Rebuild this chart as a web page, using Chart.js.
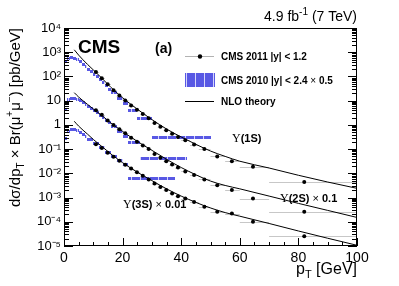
<!DOCTYPE html>
<html>
<head>
<meta charset="utf-8">
<title>Upsilon differential cross sections</title>
<script src="https://cdn.jsdelivr.net/npm/chart.js@4.4.1/dist/chart.umd.min.js"></script>
<style>
  html, body { margin: 0; padding: 0; background: #fff; }
  canvas { display: block; }
</style>
</head>
<body>
<canvas id="xsecChart" width="399" height="286"></canvas>
<script>
const nloPt = [3.5, 5, 8, 10, 13, 16, 20, 25, 30, 35, 40, 45, 50, 55, 60, 70, 80, 90, 100];
const nlo1S = [1260, 760, 316, 186, 83, 35.5, 13.2, 4.47, 1.66, 0.676, 0.316, 0.158, 0.0832, 0.0501, 0.0316, 0.0166, 0.00832, 0.00437, 0.0024];
const nlo2S = [21.4, 14.1, 7.08, 4.57, 2.4, 1.2, 0.537, 0.209, 0.0891, 0.038, 0.0174, 0.00871, 0.00479, 0.00316, 0.00229, 0.00115, 0.000575, 0.000295, 0.000151];
const nlo3S = [1.41, 0.891, 0.417, 0.251, 0.126, 0.0631, 0.0275, 0.0112, 0.00501, 0.00229, 0.00115, 0.000631, 0.000372, 0.00024, 0.00017, 0.0000851, 0.0000417, 0.0000209, 0.0000107];

// CMS 2011, |y| < 1.2
const binLo2011 = [10, 12, 14, 16, 18, 20, 22, 24, 26, 28, 30, 32, 34, 36, 38, 40, 43, 46, 50, 55, 60, 70];
const binHi2011 = [12, 14, 16, 18, 20, 22, 24, 26, 28, 30, 32, 34, 36, 38, 40, 43, 46, 50, 55, 60, 70, 100];
const pt2011 = [10.9, 12.9, 14.9, 16.9, 18.9, 20.9, 22.9, 24.9, 26.9, 28.9, 30.9, 32.9, 34.9, 36.9, 38.9, 41.4, 44.4, 47.9, 52.3, 57.3, 64.5, 82];
const cms2011_1S = [151, 85.1, 47.9, 26.9, 16.2, 10.2, 6.31, 4.17, 2.82, 1.86, 1.2, 0.832, 0.603, 0.427, 0.316, 0.234, 0.155, 0.102, 0.0501, 0.0316, 0.0186, 0.00437];
const cms2011_2S = [3.98, 2.63, 1.51, 1.0, 0.661, 0.447, 0.295, 0.2, 0.141, 0.1, 0.0631, 0.0437, 0.0316, 0.0229, 0.0174, 0.012, 0.00851, 0.00562, 0.00324, 0.00204, 0.000912, 0.000257];
const cms2011_3S = [0.158, 0.112, 0.0708, 0.0479, 0.0331, 0.0224, 0.0158, 0.0112, 0.00794, 0.00562, 0.0038, 0.00275, 0.00204, 0.00148, 0.00112, 0.000912, 0.000661, 0.000417, 0.000257, 0.000219, 0.0001, 0.0000251];

// CMS 2010, |y| < 2.4, already x 0.5
const binLo2010_1S = [0, 1, 2, 3, 4, 5, 6, 7, 8, 9, 10, 11, 12, 13, 14, 15, 16, 18, 20, 22, 25, 30];
const binHi2010_1S = [1, 2, 3, 4, 5, 6, 7, 8, 9, 10, 11, 12, 13, 14, 15, 16, 18, 20, 22, 25, 30, 50];
const cms2010_1S = [417, 575, 617, 603, 525, 417, 331, 263, 209, 166, 132, 105, 79.4, 58.9, 43.7, 31.6, 22.4, 13.2, 7.94, 3.98, 2.0, 0.324];
const binLo2010_2S = [0, 1, 2, 3, 4, 5, 6, 7, 8, 9, 10, 11, 12, 13, 14, 15, 16, 18, 20, 22, 26];
const binHi2010_2S = [1, 2, 3, 4, 5, 6, 7, 8, 9, 10, 11, 12, 13, 14, 15, 16, 18, 20, 22, 26, 42];
const cms2010_2S = [4.47, 11.2, 13.2, 13.2, 12.0, 10.7, 9.12, 7.59, 6.31, 5.13, 4.17, 3.31, 2.63, 2.04, 1.58, 1.26, 0.891, 0.562, 0.355, 0.2, 0.0437];
const binLo2010_3S = [0, 1, 2, 3, 4, 5, 6, 7, 8, 10, 12, 14, 16, 18, 20, 22];
const binHi2010_3S = [1, 2, 3, 4, 5, 6, 7, 8, 10, 12, 14, 16, 18, 20, 22, 38];
const cms2010_3S = [0.275, 0.55, 0.676, 0.676, 0.617, 0.501, 0.417, 0.347, 0.257, 0.178, 0.12, 0.0759, 0.0513, 0.0355, 0.024, 0.00646];

const yTicks = [1e-5, 1e-4, 1e-3, 1e-2, 1e-1, 1, 10, 100, 1000, 10000];
const xTicks = [0, 20, 40, 60, 80, 100];

const SANS = '"Liberation Sans", Arial, Helvetica, sans-serif';
const SERIF = '"Liberation Serif", "Times New Roman", serif';
const BLUE = 'rgb(88, 88, 228)';

Chart.defaults.font.family = SANS;
Chart.defaults.color = '#000';

function toPoints(xs, ys) {
    return ys.map((v, i) => ({ x: xs[i], y: v }));
}

// 10^n labels with unicode superscripts
function decadeLabel(value) {
    const sup = { '-': '\u207B', '0': '\u2070', '1': '\u00B9', '2': '\u00B2', '3': '\u00B3', '4': '\u2074', '5': '\u2075' };
    const e = Math.round(Math.log10(value));
    if (e === 0) return '1';
    if (e === 1) return '10';
    return '10' + String(e).split('').map(c => sup[c]).join('');
}

// draw a run of text pieces [text, font, dy]
function drawRich(ctx, parts, x, y, align) {
    let total = 0;
    parts.forEach(p => { ctx.font = p[1]; total += ctx.measureText(p[0]).width; });
    let cx = align === 'right' ? x - total : x;
    parts.forEach(p => {
        ctx.font = p[1];
        ctx.fillText(p[0], cx, y + (p[2] || 0));
        cx += ctx.measureText(p[0]).width;
    });
}

// hatched blue band, like the CMS 2010 boxes
function hatchedBox(ctx, x0, x1, y0, h, left) {
    ctx.fillStyle = BLUE;
    ctx.fillRect(x0, y0, x1 - x0, h);
    ctx.fillStyle = 'rgba(235, 235, 255, 0.85)';
    for (let gx = Math.ceil(x0); gx < x1; gx++) {
        if ((gx - left) % 9 === 4) ctx.fillRect(gx, y0, 1, h);
    }
}

const cms2010Plugin = {
    id: 'cms2010',
    beforeDatasetsDraw(chart) {
        const { ctx, chartArea, scales: { x, y } } = chart;
        ctx.save();
        ctx.beginPath();
        ctx.rect(chartArea.left, chartArea.top, chartArea.width, chartArea.height);
        ctx.clip();

        // x error bars of the 2011 points
        ctx.strokeStyle = 'rgba(0, 0, 0, 0.22)';
        ctx.lineWidth = 1;
        [cms2011_1S, cms2011_2S, cms2011_3S].forEach(vals => {
            vals.forEach((v, i) => {
                const yy = Math.round(y.getPixelForValue(v)) + 0.5;
                ctx.beginPath();
                ctx.moveTo(x.getPixelForValue(binLo2011[i]), yy);
                ctx.lineTo(x.getPixelForValue(binHi2011[i]), yy);
                ctx.stroke();
            });
        });

        // CMS 2010 boxes
        [[binLo2010_1S, binHi2010_1S, cms2010_1S],
         [binLo2010_2S, binHi2010_2S, cms2010_2S],
         [binLo2010_3S, binHi2010_3S, cms2010_3S]].forEach(([lo, hi, vals]) => {
            vals.forEach((v, i) => {
                const x0 = Math.round(x.getPixelForValue(lo[i]));
                const x1 = Math.round(x.getPixelForValue(hi[i]));
                const yc = Math.round(y.getPixelForValue(v));
                hatchedBox(ctx, x0, x1, yc - 1, 3, chartArea.left);
            });
        });
        ctx.restore();
    }
};

const framePlugin = {
    id: 'rootFrame',
    afterDraw(chart) {
        const { ctx, chartArea: a, scales: { x, y } } = chart;
        ctx.save();
        ctx.strokeStyle = '#000';
        ctx.fillStyle = '#000';
        ctx.lineWidth = 1;
        ctx.strokeRect(a.left + 0.5, a.top + 0.5, a.width - 1, a.height - 1);

        // inner tick marks, left and right
        ctx.beginPath();
        for (let d = -5; d <= 4; d++) {
            for (let m = 1; m <= 9; m++) {
                const v = m * Math.pow(10, d);
                if (v > 1e4) continue;
                const py = Math.round(y.getPixelForValue(v)) + 0.5;
                const len = m === 1 ? 9 : 5;
                ctx.moveTo(a.left, py); ctx.lineTo(a.left + len, py);
                ctx.moveTo(a.right, py); ctx.lineTo(a.right - len, py);
            }
        }
        for (let t = 0; t <= 100; t += 5) {
            const px = Math.round(x.getPixelForValue(t)) + 0.5;
            const len = t % 20 === 0 ? 8 : 4;
            ctx.moveTo(px, a.bottom); ctx.lineTo(px, a.bottom - len);
        }
        ctx.stroke();

        ctx.textAlign = 'left';
        ctx.textBaseline = 'alphabetic';

        // axis titles
        drawRich(ctx, [['p', '16px ' + SANS], ['T', '11px ' + SANS, 4], [' [GeV]', '16px ' + SANS]], a.right, 274, 'right');
        ctx.save();
        ctx.translate(20, a.top);
        ctx.rotate(-Math.PI / 2);
        drawRich(ctx, [
            ['d\u03C3/dp', '15px ' + SANS], ['T', '10px ' + SANS, 4],
            [' \u00D7 Br(\u03BC', '15px ' + SANS], ['+', '10px ' + SANS, -7],
            ['\u03BC', '15px ' + SANS], ['\u2212', '10px ' + SANS, -7],
            [') [pb/GeV]', '15px ' + SANS]
        ], 0, 0, 'right');
        ctx.restore();

        // header text
        drawRich(ctx, [['4.9 fb', '14px ' + SANS], ['-1', '10px ' + SANS, -6], [' (7 TeV)', '14px ' + SANS]], a.right, 21, 'right');
        ctx.font = 'bold 19px ' + SANS;
        ctx.fillText('CMS', 78, 53);
        ctx.font = 'bold 14px ' + SANS;
        ctx.fillText('(a)', 155, 53);

        // legend
        ctx.strokeStyle = 'rgba(0, 0, 0, 0.3)';
        ctx.beginPath(); ctx.moveTo(185, 56.5); ctx.lineTo(214, 56.5); ctx.stroke();
        ctx.beginPath(); ctx.arc(200, 56.5, 2.2, 0, Math.PI * 2); ctx.fill();
        hatchedBox(ctx, 185, 215, 73, 14, 182);
        ctx.strokeStyle = '#000';
        ctx.beginPath(); ctx.moveTo(185, 101.5); ctx.lineTo(214, 101.5); ctx.stroke();
        ctx.fillStyle = '#000';
        const lf = 'bold 10px ' + SANS;
        drawRich(ctx, [['CMS 2011 |y| < 1.2', lf]], 221, 60);
        drawRich(ctx, [['CMS 2010 |y| < 2.4 ', lf], ['\u00D7', '10px ' + SANS], [' 0.5', lf]], 221, 84);
        drawRich(ctx, [['NLO theory', lf]], 221, 105);

        // state labels
        const uf = '12px ' + SERIF, sf = 'bold 11px ' + SANS, xf = '11px ' + SANS;
        drawRich(ctx, [['\u03A5', uf], ['(1S)', sf]], 232, 142);
        drawRich(ctx, [['\u03A5', uf], ['(2S) ', sf], ['\u00D7', xf], [' 0.1', sf]], 280, 202);
        drawRich(ctx, [['\u03A5', uf], ['(3S) ', sf], ['\u00D7', xf], [' 0.01', sf]], 123, 208);
        ctx.restore();
    }
};

function nloDataset(vals) {
    return {
        type: 'line',
        data: toPoints(nloPt, vals),
        borderColor: '#000',
        borderWidth: 1,
        pointRadius: 0,
        cubicInterpolationMode: 'monotone',
        fill: false
    };
}

function pointDataset(vals) {
    return {
        type: 'scatter',
        data: toPoints(pt2011, vals),
        pointRadius: 2,
        pointBackgroundColor: '#000',
        pointBorderWidth: 0,
        showLine: false
    };
}

document.addEventListener('DOMContentLoaded', function () {
    const ctx = document.getElementById('xsecChart').getContext('2d');
    new Chart(ctx, {
        data: {
            datasets: [
                nloDataset(nlo1S), nloDataset(nlo2S), nloDataset(nlo3S),
                pointDataset(cms2011_1S), pointDataset(cms2011_2S), pointDataset(cms2011_3S)
            ]
        },
        options: {
            responsive: false,
            animation: false,
            layout: { padding: { top: 28, right: 42, left: 0, bottom: 0 } },
            plugins: {
                legend: { display: false },
                tooltip: { enabled: false }
            },
            scales: {
                x: {
                    type: 'linear',
                    min: 0,
                    max: 100,
                    afterFit: s => { s.height = 40; },
                    afterBuildTicks: s => { s.ticks = xTicks.map(v => ({ value: v })); },
                    ticks: { font: { size: 14 }, padding: 4, maxRotation: 0, autoSkip: false },
                    grid: { display: false, drawTicks: false },
                    border: { display: false }
                },
                y: {
                    type: 'logarithmic',
                    min: 1e-5,
                    max: 1e4,
                    afterFit: s => { s.width = 64; },
                    afterBuildTicks: s => { s.ticks = yTicks.map(v => ({ value: v })); },
                    ticks: { font: { size: 13 }, padding: 3, autoSkip: false, callback: v => decadeLabel(v) },
                    grid: { display: false, drawTicks: false },
                    border: { display: false }
                }
            }
        },
        plugins: [cms2010Plugin, framePlugin]
    });
});
</script>
</body>
</html>
